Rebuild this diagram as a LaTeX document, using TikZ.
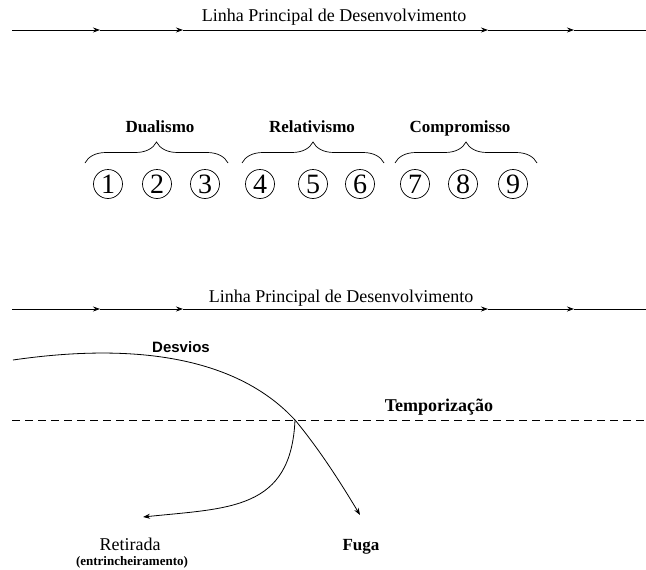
\documentclass[tikz,border=0pt]{standalone}
\usepackage{fontspec}
\setmainfont{Liberation Serif}
\newfontfamily\desviofont{Liberation Sans}
\usetikzlibrary{arrows.meta,decorations.pathreplacing}
\tikzset{
	linha/.style={line width=0.8pt, -{Stealth[length=7pt,width=5pt]}},
	grupo/.style={anchor=base, font=\fontsize{17}{20}\selectfont\bfseries},
	titulo/.style={anchor=base, font=\fontsize{18}{21}\selectfont},
	estagio/.style={circle, draw, line width=0.7pt, minimum size=29pt, inner sep=0pt, font=\fontsize{28}{28}\selectfont},
	chave/.style={line width=0.7pt, decorate, decoration={brace, amplitude=21pt}}
}
\begin{document}
\begin{tikzpicture}[x=1pt,y=-1pt]
	\useasboundingbox (0,0) rectangle (646,570);
	
	% Linha principal (em cima)
	\node[titulo] (tit1) at (334,21) {Linha Principal de Desenvolvimento};
	\foreach \n/\x in {0/12,1/100,2/183,3/488,4/574,5/646}
		\coordinate (a\n) at (\x,30);
	\foreach \i/\j in {0/1,1/2,2/3,3/4}
		\draw[linha] (a\i) -- (a\j);
	\draw[line width=0.8pt] (a4) -- (a5);
	
	% Grupos e estagios
	\node[grupo] (dual) at (160,132) {Dualismo};
	\node[grupo] (rel) at (312,132) {Relativismo};
	\node[grupo] (comp) at (460,132) {Compromisso};
	\foreach \n/\x in {1/108,2/157,3/205,4/260,5/313,6/360,7/415,8/463,9/513}
		\node[estagio] (e\n) at (\x,184) {\n};
	\foreach \g/\p/\q in {1/85/228,2/242/384,3/395/537}{
		\coordinate (c\g a) at (\p,163);
		\coordinate (c\g b) at (\q,163);
		\draw[chave] (c\g a) -- (c\g b);
	}
	
	% Linha principal (em baixo)
	\node[titulo] (tit2) at (341,302) {Linha Principal de Desenvolvimento};
	\foreach \n/\x in {0/12,1/100,2/183,3/488,4/574,5/646}
		\coordinate (b\n) at (\x,309);
	\foreach \i/\j in {0/1,1/2,2/3,3/4}
		\draw[linha] (b\i) -- (b\j);
	\draw[line width=0.8pt] (b4) -- (b5);
	
	% Temporizacao
	\coordinate (t0) at (12,420);
	\coordinate (t1) at (646,420);
	\draw[line width=0.8pt, dash pattern=on 8pt off 5pt] (t0) -- (t1);
	\node[anchor=base, font=\fontsize{18}{21}\selectfont\bfseries] (temp) at (439,411) {Temporização};
	
	% Desvios, fuga e retirada
	\coordinate (d0) at (13,360);
	\coordinate (cruz) at (295,420);
	\coordinate (fuga) at (360,515);
	\coordinate (ret) at (143,517);
	\node[anchor=base, font=\desviofont\fontsize{15}{18}\selectfont\bfseries] (desv) at (181,352) {Desvios};
	\draw[linha] (d0) .. controls (130,343) and (235,355) .. (cruz)
		.. controls (320,450) and (342,485) .. (fuga);
	\draw[linha] (cruz) .. controls (291,510) and (230,508) .. (ret);
	\node[anchor=base, font=\fontsize{18}{21}\selectfont] (retl) at (130,550) {Retirada};
	\node[anchor=base, font=\fontsize{13}{15}\selectfont\bfseries] (entr) at (132,565) {(entrincheiramento)};
	\node[anchor=base, font=\fontsize{17}{20}\selectfont\bfseries] (fugal) at (361,550) {Fuga};
\end{tikzpicture}
\end{document}
